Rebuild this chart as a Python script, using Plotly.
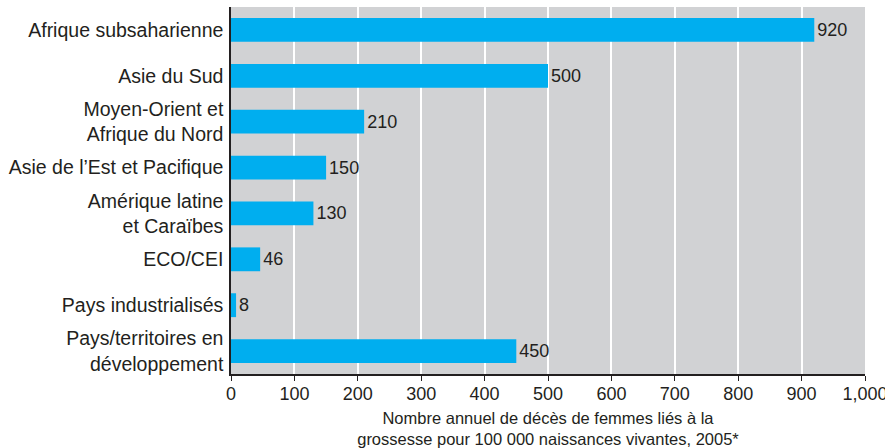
import plotly.graph_objects as go

categories = [
    "Afrique subsaharienne",
    "Asie du Sud",
    "Moyen-Orient et<br>Afrique du Nord",
    "Asie de l’Est et Pacifique",
    "Amérique latine<br>et Caraïbes",
    "ECO/CEI",
    "Pays industrialisés",
    "Pays/territoires en<br>développement",
]
values = [920, 500, 210, 150, 130, 46, 8, 450]
tick_vals = [0, 100, 200, 300, 400, 500, 600, 700, 800, 900, 1000]
x_title = "Nombre annuel de décès de femmes liés à la<br>grossesse pour 100 000 naissances vivantes, 2005*"

fig = go.Figure(
    go.Bar(
        x=values,
        y=categories,
        orientation="h",
        marker=dict(color="#00AEEF", line=dict(width=0)),
        width=0.52,
        text=[str(v) for v in values],
        textposition="outside",
        textfont=dict(size=18, color="#231F20"),
        cliponaxis=False,
    )
)

fig.update_layout(
    width=885,
    height=448,
    margin=dict(l=231, r=20, t=7, b=74, autoexpand=False),
    paper_bgcolor="white",
    plot_bgcolor="#D1D2D4",
    font=dict(family="Liberation Sans, Arial, sans-serif", color="#231F20", size=19),
    showlegend=False,
)
fig.update_xaxes(
    range=[0, 1000],
    tickvals=tick_vals,
    tickformat=",d",
    showgrid=True,
    gridcolor="white",
    gridwidth=1.5,
    zeroline=False,
    showline=True,
    linecolor="#231F20",
    linewidth=1.5,
    ticks="outside",
    ticklen=5,
    tickcolor="#231F20",
    tickfont=dict(size=18),
    ticklabeloverflow="allow",
    ticklabelstandoff=-2,
    automargin=False,
    title=dict(text=x_title, font=dict(size=16.5), standoff=10),
)
fig.update_yaxes(
    categoryorder="array",
    categoryarray=categories[::-1],
    showgrid=False,
    showline=True,
    linecolor="#231F20",
    linewidth=1.5,
    ticks="",
    ticklabelstandoff=2,
    automargin=False,
    tickfont=dict(size=19.5),
)

fig.write_html(
    "out.html",
    config={"displayModeBar": False},
    post_script="document.body.style.margin='0px';document.body.style.overflow='hidden';",
)
